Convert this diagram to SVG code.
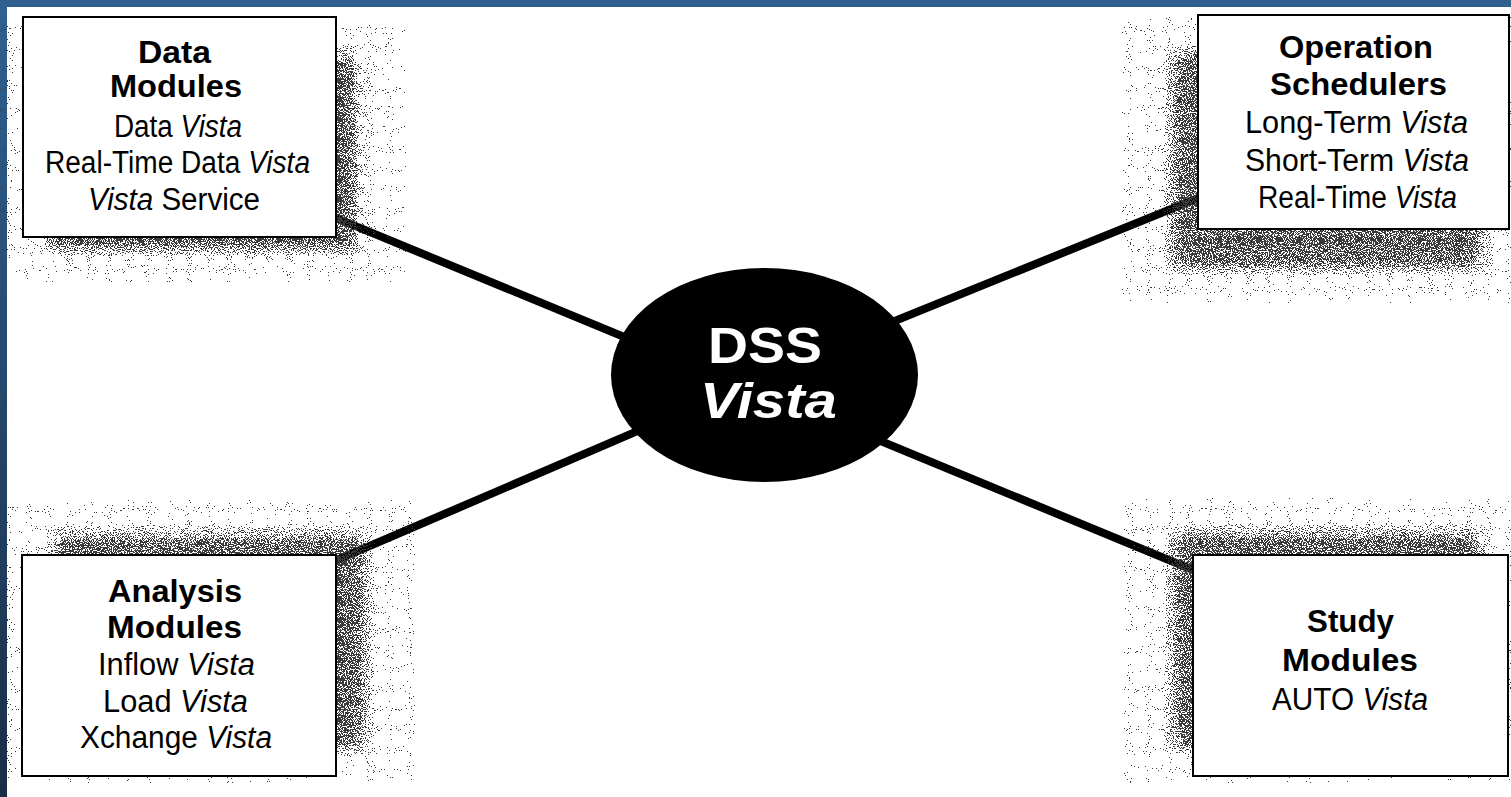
<svg xmlns="http://www.w3.org/2000/svg" width="1511" height="797" viewBox="0 0 1511 797">
  <defs>
    <linearGradient id="leftBand" x1="0" y1="0" x2="0" y2="1">
      <stop offset="0" stop-color="#2f6191"/>
      <stop offset="1" stop-color="#1a2d47"/>
    </linearGradient>
    <filter id="dither" x="-15%" y="-15%" width="130%" height="130%" color-interpolation-filters="sRGB">
      <feGaussianBlur in="SourceAlpha" stdDeviation="8" result="b"/>
      <feTurbulence type="fractalNoise" baseFrequency="0.95" numOctaves="1" seed="7" result="n"/>
      <feColorMatrix in="n" type="matrix" values="0 0 0 0 0  0 0 0 0 0  0 0 0 0 0  1 0 0 0 0" result="na"/>
      <feComposite in="b" in2="na" operator="arithmetic" k1="0" k2="0.62" k3="-2.5" k4="1.25" result="v"/>
      <feComponentTransfer in="v" result="t">
        <feFuncA type="discrete" tableValues="0 1"/>
      </feComponentTransfer>
      <feFlood flood-color="#3a3a3a" result="f"/>
      <feComposite in="f" in2="t" operator="in"/>
    </filter>
  </defs>
  <style>
    .shadow { fill: #000; filter: url(#dither); }
    .box { fill: #fff; stroke: #000; stroke-width: 2; }
    .conn { stroke: #000; stroke-width: 8; fill: none; stroke-linecap: butt; }
    .t { font-family: "Liberation Sans Narrow", "Liberation Sans", Arial, sans-serif; font-size: 31px; fill: #000; text-anchor: middle; }
    .b { font-weight: bold; font-size: 32px; }
    .i { font-style: italic; }
    .c { font-family: "Liberation Sans", Arial, sans-serif; font-size: 50px; font-weight: bold; fill: #fff; text-anchor: middle; }
  </style>

  <rect x="0" y="0" width="1511" height="797" fill="#fff"/>
  <rect x="0" y="0" width="1511" height="7" fill="#2e5f8f"/>
  <rect x="0" y="0" width="7" height="797" fill="url(#leftBand)"/>

  <g id="connectors">
    <line class="conn" x1="320" y1="211.4" x2="660" y2="351.8"/>
    <line class="conn" x1="870" y1="331" x2="1215" y2="191.2"/>
    <line class="conn" x1="320" y1="567.3" x2="660" y2="421.4"/>
    <line class="conn" x1="860" y1="432.5" x2="1210" y2="577"/>
  </g>

  <g id="data-modules">
    <rect class="shadow" x="46" y="55" width="313" height="197"/>
    <rect class="box" x="23" y="17" width="313" height="220"/>
    <text class="t b" x="174.5" y="63" textLength="73" lengthAdjust="spacingAndGlyphs">Data</text>
    <text class="t b" x="176" y="97" textLength="132" lengthAdjust="spacingAndGlyphs">Modules</text>
    <text class="t" x="178" y="137" textLength="128" lengthAdjust="spacingAndGlyphs">Data <tspan class="i">Vista</tspan></text>
    <text class="t" x="177.5" y="173" textLength="265" lengthAdjust="spacingAndGlyphs">Real-Time Data <tspan class="i">Vista</tspan></text>
    <text class="t" x="174" y="210" textLength="172" lengthAdjust="spacingAndGlyphs"><tspan class="i">Vista</tspan> Service</text>
  </g>

  <g id="operation-schedulers">
    <rect class="shadow" x="1170" y="50" width="314" height="220"/>
    <rect class="box" x="1198" y="15" width="311" height="214"/>
    <text class="t b" x="1356" y="58" textLength="154" lengthAdjust="spacingAndGlyphs">Operation</text>
    <text class="t b" x="1358.5" y="95" textLength="177" lengthAdjust="spacingAndGlyphs">Schedulers</text>
    <text class="t" x="1356.5" y="133" textLength="223" lengthAdjust="spacingAndGlyphs">Long-Term <tspan class="i">Vista</tspan></text>
    <text class="t" x="1357" y="171" textLength="224" lengthAdjust="spacingAndGlyphs">Short-Term <tspan class="i">Vista</tspan></text>
    <text class="t" x="1357.5" y="208" textLength="199" lengthAdjust="spacingAndGlyphs">Real-Time <tspan class="i">Vista</tspan></text>
  </g>

  <g id="analysis-modules">
    <rect class="shadow" x="53" y="533" width="314" height="217"/>
    <rect class="box" x="22" y="555" width="314" height="221"/>
    <text class="t b" x="175" y="602" textLength="134" lengthAdjust="spacingAndGlyphs">Analysis</text>
    <text class="t b" x="174.5" y="638" textLength="135" lengthAdjust="spacingAndGlyphs">Modules</text>
    <text class="t" x="176.5" y="675" textLength="157" lengthAdjust="spacingAndGlyphs">Inflow <tspan class="i">Vista</tspan></text>
    <text class="t" x="175.5" y="712" textLength="145" lengthAdjust="spacingAndGlyphs">Load <tspan class="i">Vista</tspan></text>
    <text class="t" x="176" y="748" textLength="192" lengthAdjust="spacingAndGlyphs">Xchange <tspan class="i">Vista</tspan></text>
  </g>

  <g id="study-modules">
    <rect class="shadow" x="1171" y="531" width="311" height="219"/>
    <rect class="box" x="1193" y="555" width="315" height="221"/>
    <text class="t b" x="1350.5" y="632" textLength="87" lengthAdjust="spacingAndGlyphs">Study</text>
    <text class="t b" x="1350" y="671" textLength="136" lengthAdjust="spacingAndGlyphs">Modules</text>
    <text class="t" x="1350" y="710" textLength="156" lengthAdjust="spacingAndGlyphs">AUTO <tspan class="i">Vista</tspan></text>
  </g>

  <g id="dss-vista">
    <ellipse cx="764.5" cy="375" rx="153.5" ry="107" fill="#000"/>
    <text class="c" x="765" y="363" textLength="114" lengthAdjust="spacingAndGlyphs">DSS</text>
    <text class="c i" x="768.5" y="418" textLength="137" lengthAdjust="spacingAndGlyphs">Vista</text>
  </g>
</svg>
